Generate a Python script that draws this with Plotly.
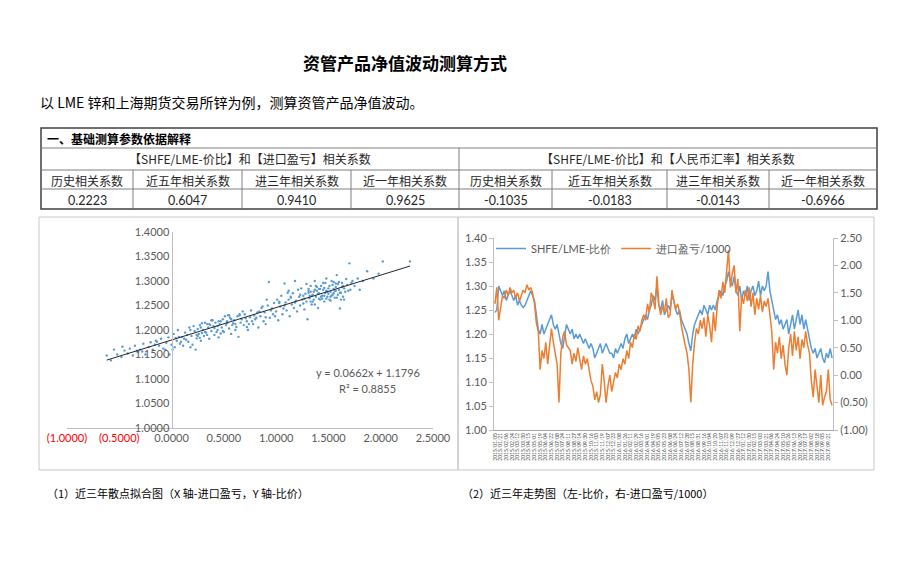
import plotly.graph_objects as go
import pandas as pd

W, H = 920, 569
OFF = 8  # page body margin

# ---------------- data ----------------
table_left_header = "【SHFE/LME-价比】和【进口盈亏】相关系数"
table_right_header = "【SHFE/LME-价比】和【人民币汇率】相关系数"
corr_labels = ["历史相关系数", "近五年相关系数", "进三年相关系数", "近一年相关系数"]
corr_profit = ["0.2223", "0.6047", "0.9410", "0.9625"]
corr_fx = ["-0.1035", "-0.0183", "-0.0143", "-0.6966"]

# scatter: x = import profit / 1000, y = SHFE/LME ratio
scatter_x = [-0.62, -0.58, -0.55, -0.52, -0.48, -0.45, -0.42, -0.40, -0.37, -0.35,
             -0.32, -0.30, -0.27, -0.25, -0.22, -0.20, -0.18, -0.15, -0.12, -0.10,
             -0.08, -0.05, -0.03, -0.02, 0.00, 0.02, 0.03, 0.05, 0.06, 0.08,
             0.10, 0.11, 0.13, 0.14, 0.16, 0.17, 0.19, 0.20, 0.22, 0.23,
             0.24, 0.26, 0.27, 0.28, 0.30, 0.31, 0.32, 0.33, 0.35, 0.36,
             0.37, 0.38, 0.40, 0.41, 0.42, 0.44, 0.45, 0.46, 0.48, 0.49,
             0.50, 0.52, 0.53, 0.55, 0.56, 0.57, 0.59, 0.60, 0.62, 0.63,
             0.64, 0.66, 0.67, 0.69, 0.70, 0.72, 0.73, 0.75, 0.76, 0.78,
             0.79, 0.80, 0.82, 0.83, 0.85, 0.86, 0.88, 0.89, 0.90, 0.92,
             0.93, 0.94, 0.95, 0.97, 0.98, 1.00, 1.01, 1.02, 1.04, 1.05,
             1.06, 1.08, 1.09, 1.10, 1.12, 1.13, 1.15, 1.16, 1.17, 1.18,
             1.19, 1.20, 1.22, 1.23, 1.24, 1.25, 1.27, 1.28, 1.29, 1.30,
             1.31, 1.32, 1.33, 1.34, 1.35, 1.36, 1.37, 1.38, 1.39, 1.40,
             1.41, 1.42, 1.43, 1.44, 1.45, 1.46, 1.47, 1.48, 1.49, 1.50,
             1.51, 1.52, 1.53, 1.54, 1.55, 1.56, 1.57, 1.58, 1.59, 1.60,
             1.61, 1.62, 1.63, 1.64, 1.65, 1.66, 1.68, 1.70, 1.71, 1.73,
             1.75, 1.78, 1.80, 1.83, 1.87, 1.93, 1.98, 2.02, 2.28,
             0.21, 0.25, 0.29, 0.34, 0.39, 0.43, 0.47, 0.51, 0.58, 0.65,
             1.26, 1.33, 1.38, 1.44, 1.47, 1.52, 1.56, 1.62, 1.35, 1.42,
             -0.47, -0.33, -0.14, -0.06, 0.04, 0.09, 0.15, 0.18, 0.25, 0.29,
             0.34, 0.39, 0.44, 0.47, 0.54, 0.61, 0.68, 0.74, 0.81, 0.87,
             0.91, 0.99, 1.03, 1.07, 1.11, 1.14, 1.21, 1.26, 1.29, 1.32,
             1.36, 1.39, 1.41, 1.45, 1.48, 1.50, 1.53, 1.55, 1.58, 1.60,
             1.63, 1.65, 1.67, 1.69, 1.72, 1.57, 1.46, 1.37, 1.31, 1.52,
             0.12, 0.18, 0.24, 0.28, 0.32, 0.36, 0.41, 0.45, 0.49, 0.53,
             0.57, 0.61, 0.65, 0.71, 0.77, 0.84, 0.96, 1.03, 1.08, 1.14,
             1.18, 1.23, 1.27, 1.31, 1.34, 1.37, 1.40, 1.43, 1.46, 1.49,
             1.51, 1.54, 1.57, 1.59, 1.61, 1.64, 1.33, 1.41, 1.48, 1.55,
             -0.28, -0.16, 0.01, 0.07, 0.27, 0.38, 0.55, 0.72, 0.90, 1.12]
scatter_y = [1.148, 1.138, 1.160, 1.150, 1.145, 1.158, 1.152, 1.162, 1.148, 1.168,
             1.155, 1.160, 1.172, 1.150, 1.165, 1.175, 1.160, 1.178, 1.168, 1.182,
             1.162, 1.174, 1.185, 1.150, 1.170, 1.192, 1.165, 1.178, 1.200, 1.172,
             1.186, 1.168, 1.195, 1.180, 1.176, 1.205, 1.188, 1.170, 1.198, 1.160,
             1.183, 1.192, 1.210, 1.178, 1.200, 1.188, 1.215, 1.195, 1.205, 1.182,
             1.210, 1.198, 1.208, 1.190, 1.215, 1.200, 1.185, 1.212, 1.205, 1.222,
             1.196, 1.210, 1.218, 1.203, 1.225, 1.192, 1.214, 1.220, 1.206, 1.228,
             1.186, 1.215, 1.222, 1.210, 1.232, 1.218, 1.200, 1.226, 1.240, 1.212,
             1.230, 1.222, 1.236, 1.205, 1.228, 1.245, 1.218, 1.236, 1.212, 1.250,
             1.298, 1.225, 1.240, 1.232, 1.255, 1.238, 1.262, 1.220, 1.248, 1.270,
             1.232, 1.295, 1.256, 1.240, 1.262, 1.228, 1.252, 1.275, 1.245, 1.300,
             1.260, 1.238, 1.268, 1.250, 1.285, 1.262, 1.242, 1.274, 1.258, 1.222,
             1.280, 1.265, 1.290, 1.252, 1.272, 1.262, 1.300, 1.268, 1.280, 1.245,
             1.275, 1.262, 1.290, 1.270, 1.282, 1.258, 1.276, 1.305, 1.268, 1.285,
             1.262, 1.278, 1.270, 1.292, 1.275, 1.266, 1.288, 1.312, 1.272, 1.282,
             1.244, 1.276, 1.296, 1.268, 1.285, 1.278, 1.292, 1.336, 1.282, 1.300,
             1.290, 1.305, 1.282, 1.300, 1.320, 1.305, 1.315, 1.340, 1.340,
             1.208, 1.202, 1.194, 1.212, 1.220, 1.196, 1.218, 1.228, 1.210, 1.232,
             1.270, 1.278, 1.290, 1.264, 1.296, 1.268, 1.280, 1.262, 1.258, 1.284,
             1.166, 1.158, 1.176, 1.160, 1.184, 1.176, 1.190, 1.165, 1.188, 1.214,
             1.190, 1.220, 1.208, 1.193, 1.230, 1.200, 1.238, 1.212, 1.225, 1.248,
             1.262, 1.228, 1.255, 1.244, 1.276, 1.266, 1.282, 1.254, 1.294, 1.270,
             1.278, 1.288, 1.264, 1.296, 1.280, 1.274, 1.300, 1.284, 1.266, 1.298,
             1.288, 1.262, 1.304, 1.280, 1.296, 1.295, 1.270, 1.252, 1.284, 1.260,
             1.182, 1.200, 1.190, 1.205, 1.196, 1.212, 1.204, 1.218, 1.198, 1.214,
             1.222, 1.212, 1.230, 1.224, 1.218, 1.238, 1.244, 1.258, 1.250, 1.268,
             1.256, 1.272, 1.264, 1.276, 1.270, 1.282, 1.274, 1.268, 1.286, 1.278,
             1.290, 1.272, 1.280, 1.294, 1.276, 1.290, 1.258, 1.284, 1.264, 1.298,
             1.156, 1.170, 1.160, 1.186, 1.184, 1.220, 1.230, 1.206, 1.226, 1.280]

trend_slope = 0.0662
trend_intercept = 1.1796
trend_x = [-0.62, 2.28]

# trend chart (left: ratio, right: import profit / 1000)
ratio = [1.245, 1.25, 1.30, 1.29, 1.28, 1.29, 1.27, 1.28, 1.29, 1.28,
         1.27, 1.28, 1.26, 1.27, 1.26, 1.255, 1.26, 1.27, 1.28, 1.29,
         1.28, 1.27, 1.24, 1.21, 1.20, 1.22, 1.20, 1.21, 1.22, 1.23,
         1.24, 1.22, 1.21, 1.22, 1.20, 1.18, 1.17, 1.20, 1.22, 1.21,
         1.20, 1.21, 1.19, 1.20, 1.19, 1.20, 1.19, 1.18, 1.19, 1.18,
         1.17, 1.18, 1.17, 1.15, 1.16, 1.17, 1.18, 1.16, 1.17, 1.18,
         1.17, 1.16, 1.16, 1.15, 1.17, 1.16, 1.17, 1.18, 1.17, 1.19,
         1.20, 1.18, 1.19, 1.20, 1.19, 1.21, 1.20, 1.21, 1.22, 1.23,
         1.24, 1.23, 1.25, 1.26, 1.28, 1.27, 1.30, 1.26, 1.25, 1.27,
         1.24, 1.25, 1.26, 1.25, 1.28, 1.27, 1.25, 1.24, 1.25, 1.23,
         1.22, 1.21, 1.20, 1.18, 1.165, 1.20, 1.22, 1.23, 1.24, 1.25,
         1.24, 1.26, 1.25, 1.24, 1.26, 1.25, 1.26, 1.25, 1.27, 1.28,
         1.29, 1.28, 1.30, 1.31, 1.33, 1.31, 1.30, 1.32, 1.29, 1.28,
         1.30, 1.27, 1.29, 1.28, 1.30, 1.27, 1.29, 1.30, 1.28, 1.29,
         1.31, 1.28, 1.30, 1.29, 1.30, 1.33, 1.29, 1.27, 1.25, 1.23,
         1.24, 1.22, 1.23, 1.21, 1.22, 1.23, 1.20, 1.22, 1.24, 1.21,
         1.23, 1.25, 1.22, 1.24, 1.21, 1.23, 1.21, 1.19, 1.17, 1.16,
         1.17, 1.15, 1.16, 1.17, 1.15, 1.14, 1.16, 1.15, 1.17, 1.15]
profit = [1.30, 1.60, 1.00, 1.20, 1.45, 1.40, 1.55, 1.45, 1.60, 1.50,
          1.55, 1.40, 1.50, 1.35, 1.45, 1.55, 1.50, 1.65, 1.55, 1.60,
          1.50, 1.30, 0.95, 0.80, 0.10, 0.45, 0.30, 0.60, 0.20, 0.50,
          0.85, 0.60, 0.40, 0.20, -0.50, 0.40, 0.70, 0.80, 0.55, 0.50,
          0.45, 0.20, 0.40, 0.25, 0.50, 0.30, 0.10, 0.35, 0.20, 0.30,
          0.10, -0.10, -0.20, -0.45, -0.30, -0.50, -0.35, 0.20, -0.10, -0.50,
          -0.20, 0.00, -0.30, -0.10, 0.05, -0.05, 0.20, 0.10, 0.30, 0.20,
          0.45, 0.30, 0.60, 0.50, 0.75, 0.65, 0.90, 0.80, 1.00, 1.10,
          1.00, 1.30, 1.15, 1.50, 1.40, 1.20, 1.80, 1.30, 1.10, 1.25,
          1.15, 1.40, 1.05, 1.10, 1.55, 1.35, 1.20, 1.30, 1.15, 0.90,
          0.70, 0.55, 0.40, 0.10, -0.50, 0.20, 0.60, 0.85, 0.75, 1.00,
          0.85, 1.05, 0.70, 1.10, 0.90, 0.60, 1.15, 0.80, 1.25, 1.55,
          1.40, 1.70, 1.50, 1.90, 2.28, 1.60, 1.85, 2.00, 1.50, 1.75,
          0.80, 1.45, 1.30, 1.55, 1.35, 1.60, 1.25, 1.50, 1.10, 1.40,
          1.20, 1.45, 1.15, 1.35, 1.25, 1.40, 1.10, 0.80, 0.10, 0.60,
          0.40, 0.70, 0.30, 0.55, 0.20, 0.00, 0.50, 0.75, 0.35, 0.80,
          0.45, 0.70, 0.30, 0.65, 0.50, 0.80, 0.55, 0.40, -0.10, -0.40,
          0.10, -0.20, -0.50, 0.00, -0.55, -0.40, -0.30, 0.10, -0.45, -0.55]
dates = [d.strftime("%Y/%m/%d") for d in pd.bdate_range("2015-01-05", periods=len(ratio) * 4)[::4]]

scatter_xticks = [-1.0, -0.5, 0.0, 0.5, 1.0, 1.5, 2.0, 2.5]
scatter_xticktext = ['<span style="color:#FF0000">(1.0000)</span>',
                     '<span style="color:#FF0000">(0.5000)</span>',
                     "0.0000", "0.5000", "1.0000", "1.5000", "2.0000", "2.5000"]
right_ticks = [-1.0, -0.5, 0.0, 0.5, 1.0, 1.5, 2.0, 2.5]
right_ticktext = ["(1.00)", "(0.50)", "0.00", "0.50", "1.00", "1.50", "2.00", "2.50"]

# ---------------- helpers ----------------
def px(x):
    return (x - OFF) / W

def py(y):
    return 1 - (y - OFF) / H

NUMFONT = "Lato, 'Noto Sans', sans-serif"
CJK = "'Noto Sans CJK SC', sans-serif"
GREY = "#595959"
AXC = "#BFBFBF"

fig = go.Figure()

# scatter chart
fig.add_trace(go.Scatter(x=scatter_x, y=scatter_y, mode="markers",
                         marker=dict(size=2.4, color="#5B9BD5"),
                         xaxis="x", yaxis="y", showlegend=False))
fig.add_trace(go.Scatter(x=trend_x, y=[trend_slope * v + trend_intercept for v in trend_x],
                         mode="lines", line=dict(color="#262626", width=1),
                         xaxis="x", yaxis="y", showlegend=False))

# trend chart
fig.add_trace(go.Scatter(x=dates, y=ratio, mode="lines", name="SHFE/LME-比价",
                         line=dict(color="#5B9BD5", width=1.5),
                         xaxis="x2", yaxis="y2"))
fig.add_trace(go.Scatter(x=dates, y=profit, mode="lines", name="进口盈亏/1000",
                         line=dict(color="#ED7D31", width=1.5),
                         xaxis="x2", yaxis="y3"))

x1d = [px(67), px(433)]
y1d = [py(428), py(232)]
yaxis_pos = x1d[0] + (x1d[1] - x1d[0]) * (1.0 / 3.5)

fig.update_layout(
    width=W, height=H,
    margin=dict(l=0, r=0, t=0, b=0, autoexpand=False),
    paper_bgcolor="white", plot_bgcolor="rgba(0,0,0,0)",
    font=dict(family=NUMFONT, color=GREY, size=11),
    xaxis=dict(domain=x1d, range=[-1.0, 2.5], anchor="y", automargin=False,
               tickmode="array", tickvals=scatter_xticks, ticktext=scatter_xticktext,
               showgrid=False, zeroline=False, showline=True, linecolor=AXC,
               ticks="", tickfont=dict(size=11, color=GREY, family=NUMFONT)),
    yaxis=dict(domain=y1d, range=[1.0, 1.4], anchor="free", position=yaxis_pos,
               automargin=False,
               dtick=0.05, tickformat=".4f", showgrid=False, zeroline=False,
               showline=True, linecolor=AXC, ticks="",
               tickfont=dict(size=11, color=GREY, family=NUMFONT)),
    xaxis2=dict(domain=[px(494), px(833)], anchor="y2", type="category", automargin=False,
                tickmode="array", tickvals=dates[::3], ticktext=dates[::3],
                tickangle=-90, tickfont=dict(size=5, color="#404040", family=NUMFONT),
                showgrid=False, zeroline=False, showline=True, linecolor="#A5A5A5",
                ticks="", range=[-0.5, len(dates) - 0.5]),
    yaxis2=dict(domain=[py(430), py(238)], anchor="x2", range=[1.0, 1.4], automargin=False,
                dtick=0.05, tickformat=".2f", showgrid=False, zeroline=False,
                showline=True, linecolor=AXC, ticks="outside", ticklen=4, tickcolor=AXC,
                tickfont=dict(size=11, color=GREY, family=NUMFONT)),
    yaxis3=dict(overlaying="y2", side="right", anchor="x2", range=[-1.0, 2.5],
                automargin=False,
                tickmode="array", tickvals=right_ticks, ticktext=right_ticktext,
                showgrid=False, zeroline=False, showline=True, linecolor=AXC,
                ticks="outside", ticklen=4, tickcolor=AXC,
                tickfont=dict(size=11, color=GREY, family=NUMFONT)),
    legend=dict(orientation="h", x=px(491), y=py(234), xanchor="left", yanchor="top",
                bgcolor="rgba(0,0,0,0)", font=dict(size=11, color=GREY, family=NUMFONT),
                itemwidth=30, tracegroupgap=0),
)

shapes = []
def line(x0, y0, x1, y1, color="#7F7F7F", width=1):
    shapes.append(dict(type="line", xref="paper", yref="paper",
                       x0=px(x0), y0=py(y0), x1=px(x1), y1=py(y1),
                       line=dict(color=color, width=width)))

# chart boxes
for (a, b) in [(39, 458), (458, 874)]:
    shapes.append(dict(type="rect", xref="paper", yref="paper",
                       x0=px(a), x1=px(b), y0=py(470), y1=py(217),
                       line=dict(color="#C8C8C8", width=1)))

# table grid
shapes.append(dict(type="rect", xref="paper", yref="paper",
                   x0=px(41), x1=px(877), y0=py(209), y1=py(128),
                   line=dict(color="#404040", width=1.5)))
for yy in [148, 170, 189]:
    line(41, yy, 877, yy)
line(459, 148, 459, 209)
for xx in [133, 242, 351, 552, 667, 769]:
    line(xx, 170, xx, 209)

annotations = []
def text(x, y, s, size=12, family=CJK, color="#262626", xanchor="center"):
    annotations.append(dict(xref="paper", yref="paper", x=px(x), y=py(y), text=s,
                            showarrow=False, xanchor=xanchor, yanchor="middle",
                            font=dict(size=size, family=family, color=color)))

text(405, 63, "<b>资管产品净值波动测算方式</b>", size=17, color="#000000")
text(38, 102, "以 LME 锌和上海期货交易所锌为例，测算资管产品净值波动。", size=14,
     color="#000000", xanchor="left")
text(45, 138, "<b>一、基础测算参数依据解释</b>", size=12, color="#000000", xanchor="left")
text(250, 159, table_left_header, size=12)
text(668, 159, table_right_header, size=12)
left_cols = [41, 133, 242, 351, 459]
right_cols = [459, 552, 667, 769, 877]
for i in range(4):
    cl = (left_cols[i] + left_cols[i + 1]) / 2
    cr = (right_cols[i] + right_cols[i + 1]) / 2
    text(cl, 180, corr_labels[i], size=12)
    text(cr, 180, corr_labels[i], size=12)
    text(cl, 200, corr_profit[i], size=12.5, family=NUMFONT)
    text(cr, 200, corr_fx[i], size=12.5, family=NUMFONT)

text(368, 372, "y = 0.0662x + 1.1796", size=11, family=NUMFONT, color=GREY)
text(367, 388, "R² = 0.8855", size=11, family=NUMFONT, color=GREY)

text(45, 493, "（1）近三年散点拟合图（X 轴-进口盈亏，Y 轴-比价）", size=11,
     color="#000000", xanchor="left")
text(460, 493, "（2）近三年走势图（左-比价，右-进口盈亏/1000）", size=11,
     color="#000000", xanchor="left")

fig.update_layout(shapes=shapes, annotations=annotations)
fig.write_html("out.html")
